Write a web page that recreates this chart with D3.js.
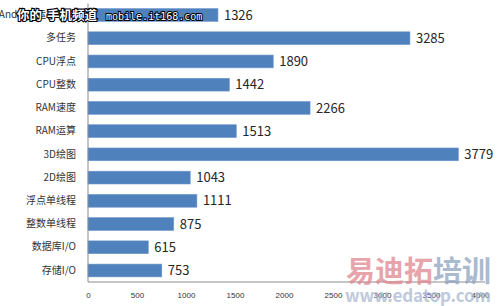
<!DOCTYPE html>
<html>
<head>
<meta charset="utf-8">
<script src="https://cdn.jsdelivr.net/npm/d3@7"></script>
<style>
  body { margin: 0; background: #fff; }
  svg { display: block; font-family: "Noto Sans CJK SC", "Noto Sans", sans-serif; }
</style>
</head>
<body>
<svg id="chart" width="500" height="306"></svg>
<script>
// benchmark items, top to bottom
const categories = ['Android运行环境', '多任务', 'CPU浮点', 'CPU整数', 'RAM速度', 'RAM运算',
  '3D绘图', '2D绘图', '浮点单线程', '整数单线程', '数据库I/O', '存储I/O'];
const scores = [1326, 3285, 1890, 1442, 2266, 1513, 3779, 1043, 1111, 875, 615, 753];
const xTicks = [0, 500, 1000, 1500, 2000, 2500, 3000, 3500, 4000];

const svg = d3.select('#chart');
const margin = { top: 3.5, right: 20, bottom: 24, left: 88 };
const height = 306;

const x = d3.scaleLinear()
  .domain([0, 4000])
  .range([margin.left, 480]);

const y = d3.scaleBand()
  .domain(categories)
  .range([margin.top, height - margin.bottom])
  .paddingInner(0.45)
  .paddingOuter(0.22);

// bars
svg.append('g')
  .selectAll('rect')
  .data(scores)
  .join('rect')
  .attr('x', x(0))
  .attr('y', (d, i) => y(categories[i]))
  .attr('width', d => x(d) - x(0))
  .attr('height', y.bandwidth())
  .attr('fill', '#4f81bd')
  .attr('stroke', '#6d95c8')
  .attr('stroke-width', 0.6);

// value labels
svg.append('g')
  .selectAll('text')
  .data(scores)
  .join('text')
  .attr('x', d => x(d) + 6)
  .attr('y', (d, i) => y(categories[i]) + y.bandwidth() / 2)
  .attr('dy', '0.36em')
  .attr('font-size', 13)
  .attr('fill', '#262626')
  .text(d => d);

// category axis
const yAxis = svg.append('g')
  .attr('transform', `translate(${x(0)},0)`)
  .call(d3.axisLeft(y).tickSize(0).tickPadding(12));
yAxis.select('.domain').attr('stroke', '#8c8c8c').attr('d', `M0,${margin.top}V${height - margin.bottom}`);
yAxis.selectAll('text')
  .attr('font-size', 10)
  .attr('fill', '#333')
  .attr('font-family', '"Noto Sans CJK SC", sans-serif');

// value axis
const xAxis = svg.append('g')
  .attr('transform', `translate(0,${height - margin.bottom})`)
  .call(d3.axisBottom(x).tickValues(xTicks).tickFormat(d3.format('d')).tickSize(0).tickPadding(10));
xAxis.select('.domain').attr('stroke', '#8c8c8c').attr('d', `M${x(0)},0H485`);
xAxis.selectAll('text')
  .attr('font-size', 8)
  .attr('fill', '#333');

// site watermarks
const it168 = svg.append('g')
  .attr('fill', '#fff')
  .attr('stroke', '#000')
  .attr('paint-order', 'stroke');
it168.append('text')
  .attr('x', 17)
  .attr('y', 20)
  .attr('font-size', 12.5)
  .attr('font-weight', 'bold')
  .attr('stroke-width', 2.2)
  .text('你的');
it168.append('text')
  .attr('x', 47)
  .attr('y', 20)
  .attr('font-size', 12.5)
  .attr('font-weight', 'bold')
  .attr('stroke-width', 2.2)
  .text('手机频道');
it168.append('text')
  .attr('x', 106)
  .attr('y', 20)
  .attr('font-size', 10)
  .attr('font-family', '"DejaVu Sans Mono", monospace')
  .attr('stroke-width', 2)
  .text('mobile.it168.com');

const wm = svg.append('g').attr('opacity', 0.75);
wm.append('text')
  .attr('x', 346)
  .attr('y', 282)
  .attr('font-size', 29)
  .attr('font-weight', 'bold')
  .attr('fill', '#e0868f')
  .text('易迪拓');
wm.append('text')
  .attr('x', 433)
  .attr('y', 282)
  .attr('font-size', 29)
  .attr('font-weight', 'bold')
  .attr('fill', '#8ea3c0')
  .text('培训');
wm.append('text')
  .attr('x', 345)
  .attr('y', 302)
  .attr('font-size', 17)
  .attr('font-weight', 'bold')
  .attr('fill', '#a9b8cf')
  .attr('textLength', 146)
  .text('www.edatop.com');
</script>
</body>
</html>
